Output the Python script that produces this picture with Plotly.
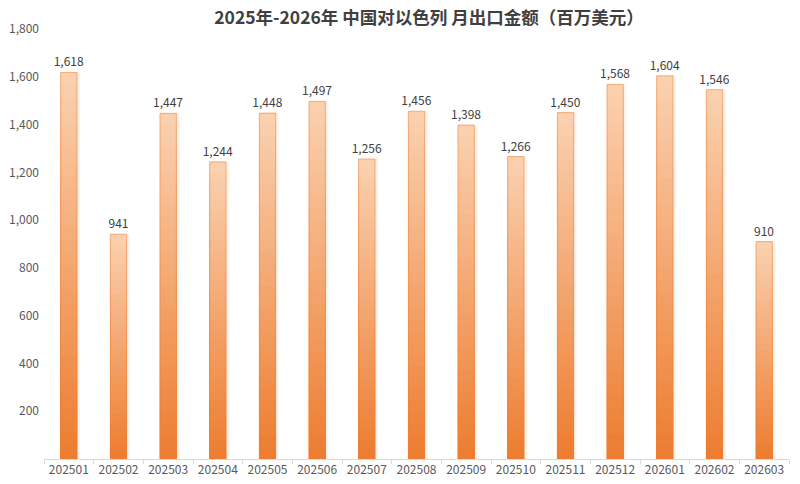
import plotly.graph_objects as go

# monthly export values, million USD
months = ["202501", "202502", "202503", "202504", "202505", "202506", "202507", "202508",
          "202509", "202510", "202511", "202512", "202601", "202602", "202603"]
export_values = [1618, 941, 1447, 1244, 1448, 1497, 1256, 1456,
                 1398, 1266, 1450, 1568, 1604, 1546, 910]
y_ticks = [200, 400, 600, 800, 1000, 1200, 1400, 1600, 1800]

title = "2025年-2026年 中国对以色列 月出口金额（百万美元）"
font_family = "Noto Sans CJK SC, Noto Sans, sans-serif"

top_rgb = (250, 208, 175)
bottom_rgb = (237, 125, 49)
n_steps = 30
bar_width = 0.33


def mix(t):
    r, g, b = (round(a + (c - a) * t) for a, c in zip(top_rgb, bottom_rgb))
    return f"rgb({r},{g},{b})"


fig = go.Figure()

# soft shadow to the right of each bar
fig.add_trace(go.Bar(
    x=months,
    y=export_values,
    marker=dict(color="rgba(237,125,49,0.10)", line=dict(width=0)),
    width=bar_width + 0.05,
    offset=-bar_width / 2 + 0.01,
    hoverinfo="skip",
    showlegend=False,
))

# gradient: stacked overlay layers, full bar first, shorter/darker ones on top
for k in range(n_steps):
    frac = (n_steps - k) / n_steps
    fig.add_trace(go.Bar(
        x=months,
        y=[v * frac for v in export_values],
        marker=dict(color=mix(k / (n_steps - 1)), line=dict(width=0)),
        width=bar_width,
        hoverinfo="skip",
        showlegend=False,
    ))

# outline + labels
fig.add_trace(go.Bar(
    x=months,
    y=export_values,
    marker=dict(color="rgba(0,0,0,0)", line=dict(color="rgba(237,125,49,0.55)", width=1)),
    width=bar_width,
    text=[f"{v:,}" for v in export_values],
    textposition="outside",
    constraintext="none",
    textfont=dict(size=12, color="#404040", family=font_family),
    cliponaxis=False,
    showlegend=False,
))

# page body adds 8px margin, so the figure is 8px smaller than the window
fig.update_layout(
    barmode="overlay",
    width=792,
    height=476,
    margin=dict(l=36, r=11, t=21, b=25),
    paper_bgcolor="white",
    plot_bgcolor="white",
    font=dict(family=font_family, color="#595959"),
    title=dict(
        text=title,
        x=0.5316, xref="container", xanchor="center",
        y=0.979, yref="container", yanchor="middle",
        font=dict(size=17.5, color="#404040", family=font_family, weight="bold"),
    ),
)

fig.update_xaxes(
    type="category",
    automargin=False,
    showline=True,
    linecolor="#D9D9D9",
    linewidth=1,
    ticks="outside",
    tickson="boundaries",
    ticklen=4,
    tickcolor="#D9D9D9",
    tickfont=dict(size=12, color="#595959"),
    showgrid=False,
)

fig.update_yaxes(
    range=[0, 1800],
    automargin=False,
    tickvals=y_ticks,
    tickformat=",",
    showgrid=False,
    showline=False,
    zeroline=False,
    tickfont=dict(size=12, color="#595959"),
    ticks="",
    ticklabelstandoff=4,
)

fig.write_html("out.html")
